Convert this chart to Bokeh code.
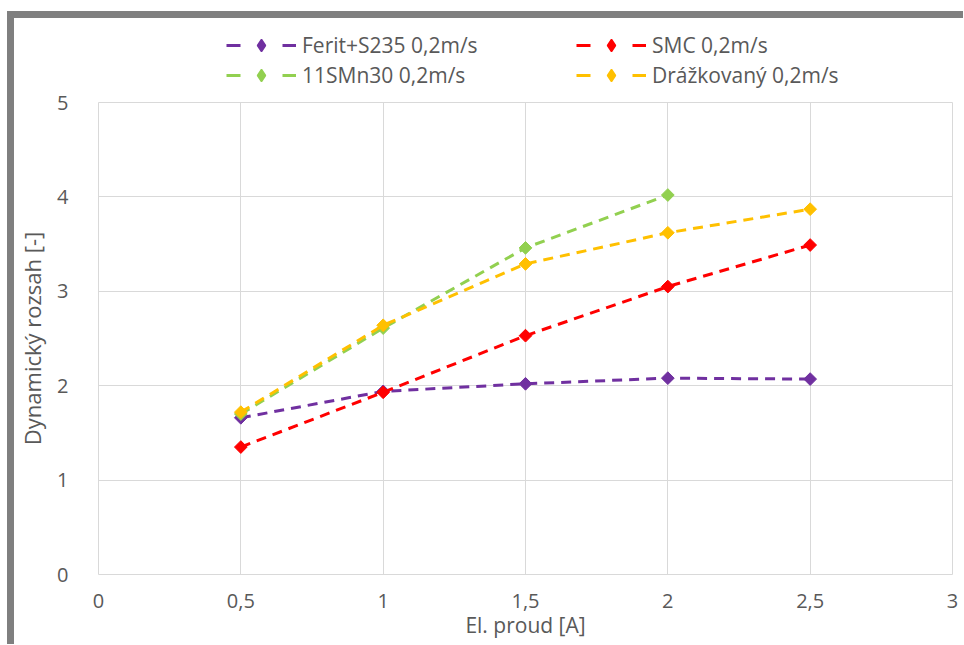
from math import pi
from bokeh.plotting import figure
from bokeh.layouts import column
from bokeh.models import Range1d, FixedTicker, Legend, LegendItem
from bokeh.embed import file_html
from bokeh.resources import INLINE

# ---- data ----
current = [0.5, 1.0, 1.5, 2.0, 2.5]
ferit = [1.66, 1.94, 2.02, 2.08, 2.07]
smc = [1.35, 1.93, 2.53, 3.05, 3.49]
smn30_x = [0.5, 1.0, 1.5, 2.0]
smn30 = [1.70, 2.61, 3.46, 4.02]
drazk = [1.72, 2.64, 3.29, 3.62, 3.87]

series_names = ["Ferit+S235 0,2m/s", "SMC 0,2m/s", "11SMn30 0,2m/s", "Drážkovaný 0,2m/s"]
series_colors = ["#7030A0", "#FF0000", "#92D050", "#FFC000"]

x_ticks = [0, 0.5, 1, 1.5, 2, 2.5, 3]
x_tick_labels = ["0", "0,5", "1", "1,5", "2", "2,5", "3"]
y_ticks = [0, 1, 2, 3, 4, 5]
y_tick_labels = ["0", "1", "2", "3", "4", "5"]
x_title = "El. proud [A]"
y_title = "Dynamický rozsah [-]"

FONT = "Open Sans"
TXT = "#595959"
GRID = "#D9D9D9"
W = 949
H_LEG = 70
H_MAIN = 556

# ---- legend strip (above the plot area); its ranges keep the key glyphs' data out of view ----
leg = figure(width=W, height=H_LEG, output_backend="svg", toolbar_location=None,
             x_range=Range1d(10, 20), y_range=Range1d(10, 20),
             x_axis_type=None, y_axis_type=None, min_border=0)
leg.grid.visible = False
leg.outline_line_color = None
leg.background_fill_color = "white"
leg.border_fill_color = "white"

# ---- main plot ----
p = figure(width=W, height=H_MAIN, output_backend="svg", toolbar_location=None,
           x_range=Range1d(0, 3), y_range=Range1d(0, 5),
           min_border_left=84, min_border_right=11, min_border_top=14, min_border_bottom=70)
p.background_fill_color = "white"
p.border_fill_color = "white"
p.outline_line_color = GRID
p.outline_line_width = 1

p.xaxis.ticker = FixedTicker(ticks=x_ticks)
p.yaxis.ticker = FixedTicker(ticks=y_ticks)
p.xaxis.major_label_overrides = {t: l for t, l in zip(x_ticks, x_tick_labels)}
p.yaxis.major_label_overrides = {t: l for t, l in zip(y_ticks, y_tick_labels)}

for ax in (p.xaxis[0], p.yaxis[0]):
    ax.axis_line_color = None
    ax.major_tick_line_color = None
    ax.minor_tick_line_color = None
    ax.major_label_text_font = FONT
    ax.major_label_text_font_size = "20px"
    ax.major_label_text_color = TXT
    ax.axis_label_text_font = FONT
    ax.axis_label_text_color = TXT
    ax.axis_label_text_font_style = "normal"

p.xaxis.axis_label = x_title
p.yaxis.axis_label = y_title
p.xaxis.axis_label_text_font_size = "21px"
p.yaxis.axis_label_text_font_size = "22px"
p.xaxis.major_label_standoff = 13
p.xaxis.axis_label_standoff = 0
p.yaxis.major_label_standoff = 24
p.yaxis.axis_label_standoff = 7

p.xgrid.grid_line_color = GRID
p.ygrid.grid_line_color = GRID
p.xgrid.grid_line_width = 1
p.ygrid.grid_line_width = 1

xs = [current, current, smn30_x, current]
ys = [ferit, smc, smn30, drazk]

legend_items = []
for name, col, x, y in zip(series_names, series_colors, xs, ys):
    p.line(x, y, line_color=col, line_width=3, line_dash="10 7")
    p.scatter(x, y, marker="square", angle=pi / 4, size=9,
              fill_color=col, line_color=col, line_width=1)
    # key glyphs for the legend strip (same series data, outside that strip's ranges)
    ll = leg.line(x, y, line_color=col, line_width=3, line_dash="14 42")
    ls = leg.scatter(x, y, marker="diamond", size=12,
                     fill_color=col, line_color=col, line_width=1.5)
    legend_items.append(LegendItem(label=name, renderers=[ll, ls]))


def make_legend(items, x):
    return Legend(items=items, location=(x, -2), orientation="vertical",
                  glyph_width=70, glyph_height=30, label_height=30,
                  spacing=0, padding=0, margin=0, label_standoff=6,
                  border_line_color=None, background_fill_alpha=0,
                  label_text_font=FONT, label_text_font_size="21px",
                  label_text_color=TXT)


leg.add_layout(make_legend([legend_items[0], legend_items[2]], 128))
leg.add_layout(make_legend([legend_items[1], legend_items[3]], 478))

lay = column(leg, p, spacing=0)
lay.styles = {"margin-left": "7px", "margin-top": "11px",
              "border-left": "7px solid #7F7F7F", "border-top": "7px solid #7F7F7F"}

open("out.html", "w").write(file_html(lay, INLINE))
